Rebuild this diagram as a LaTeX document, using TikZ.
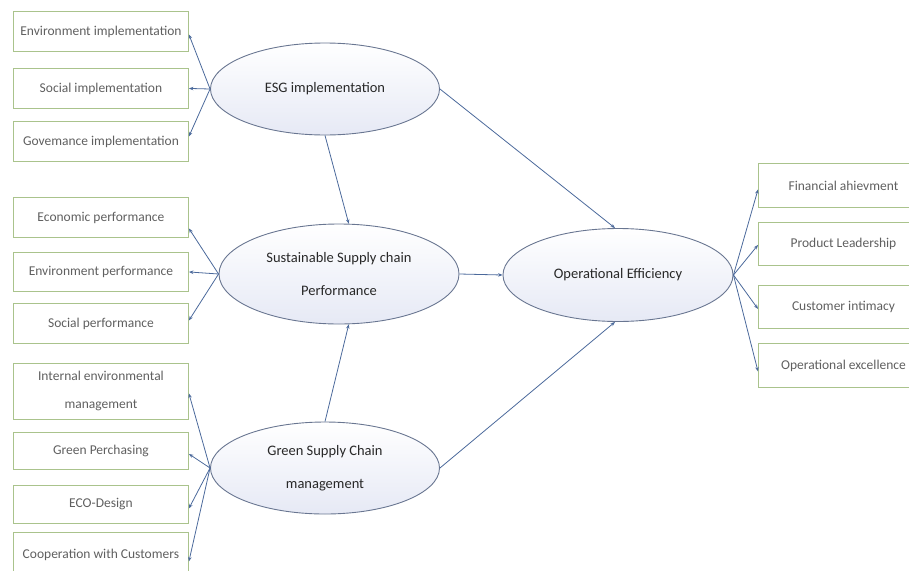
\documentclass[tikz,border=0pt]{standalone}
\usepackage{fontspec}
\setmainfont{Carlito}
\usetikzlibrary{shapes.geometric,arrows.meta}
\definecolor{linec}{RGB}{75,105,155}
\definecolor{boxc}{RGB}{170,195,140}
\definecolor{ellc}{RGB}{105,118,145}
\definecolor{ellfill}{RGB}{230,233,245}
\definecolor{boxtext}{RGB}{95,95,95}
\definecolor{elltext}{RGB}{40,40,40}
\tikzset{
  ind/.style={draw=boxc, line width=0.9pt, minimum width=175pt, inner sep=0pt, align=center,
    text=boxtext, font=\fontsize{13.5}{28}\selectfont, anchor=north west},
  rind/.style={ind, minimum width=170pt},
  lat/.style={ellipse, draw=ellc, line width=0.9pt, inner sep=0pt, align=center,
    top color=white, bottom color=ellfill, text=elltext,
    font=\fontsize{14.5}{33}\selectfont},
  arr/.style={draw=linec, line width=0.8pt, -{Stealth[length=4.5pt,width=3.5pt]}}
}
\begin{document}
\begin{tikzpicture}[x=1pt,y=-1pt]
\useasboundingbox (0,0) rectangle (909,570);
\clip (0,0) rectangle (909,570);
% left indicator boxes
\node[ind, minimum height=40pt] (b1) at (13,11) {Environment implementation};
\node[ind, minimum height=40pt] (b2) at (13,68) {Social implementation};
\node[ind, minimum height=40pt] (b3) at (13,121) {Govemance implementation};
\node[ind, minimum height=40pt] (b4) at (13,197) {Economic performance};
\node[ind, minimum height=39pt] (b5) at (13,252) {Environment performance};
\node[ind, minimum height=40pt] (b6) at (13,303) {Social performance};
\node[ind, minimum height=56pt] (b7) at (13,363) {Internal environmental\\management};
\node[ind, minimum height=37pt] (b8) at (13,432) {Green Perchasing};
\node[ind, minimum height=38pt] (b9) at (13,485) {ECO-Design};
\node[ind, minimum height=44pt] (b10) at (13,532) {Cooperation with Customers};
% right indicator boxes
\node[rind, minimum height=44pt] (r1) at (758,163) {Financial ahievment};
\node[rind, minimum height=43pt] (r2) at (758,222) {Product Leadership};
\node[rind, minimum height=43pt] (r3) at (758,285) {Customer intimacy};
\node[rind, minimum height=44pt] (r4) at (758,343) {Operational excellence};
% latent ellipses
\node[lat, minimum width=229pt, minimum height=92pt] (esg) at (325,89) {ESG implementation};
\node[lat, minimum width=240pt, minimum height=100pt] (sscp) at (339,274) {Sustainable Supply chain\\Performance};
\node[lat, minimum width=229pt, minimum height=92pt] (gscm) at (325,468) {Green Supply Chain\\management};
\node[lat, minimum width=230pt, minimum height=93pt] (oe) at (618,275) {Operational Efficiency};
% indicator arrows
\draw[arr] (esg.west) -- ([yshift=-3pt]b1.east);
\draw[arr] (esg.west) -- (b2.east);
\draw[arr] (esg.west) -- ([yshift=5pt]b3.east);
\draw[arr] (sscp.west) -- ([yshift=-11pt]b4.east);
\draw[arr] (sscp.west) -- (b5.east);
\draw[arr] (sscp.west) -- ([yshift=3pt]b6.east);
\draw[arr] (gscm.west) -- ([yshift=-2pt]b7.east);
\draw[arr] (gscm.west) -- ([yshift=-3pt]b8.east);
\draw[arr] (gscm.west) -- ([yshift=-4pt]b9.east);
\draw[arr] (gscm.west) -- ([yshift=-7pt]b10.east);
\draw[arr] (oe.east) -- ([yshift=-4pt]r1.west);
\draw[arr] (oe.east) -- ([yshift=-1pt]r2.west);
\draw[arr] (oe.east) -- ([yshift=-2pt]r3.west);
\draw[arr] (oe.east) -- ([yshift=-6pt]r4.west);
% structural arrows
\draw[arr] (esg.south) -- (sscp.79);
\draw[arr] (gscm.north) -- (sscp.-79);
\draw[arr] (esg.east) -- ([xshift=-3pt]oe.north);
\draw[arr] (sscp.east) -- (oe.west);
\draw[arr] (gscm.east) -- ([xshift=-3pt]oe.south);
\end{tikzpicture}
\end{document}
